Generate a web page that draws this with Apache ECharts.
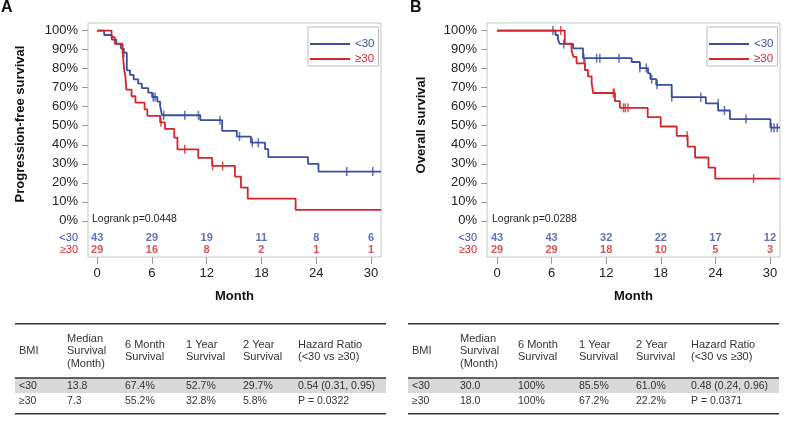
<!DOCTYPE html>
<html>
<head>
<meta charset="utf-8">
<script src="https://cdn.jsdelivr.net/npm/echarts@6/dist/echarts.min.js"></script>
<style>
  html, body { margin: 0; padding: 0; background: #fff; }
  #chart { width: 787px; height: 423px; }
</style>
</head>
<body>
<div id="chart"></div>
<script>
// ---- data ----
const months = [0, 6, 12, 18, 24, 30];
const pctTicks = [0, 0.1, 0.2, 0.3, 0.4, 0.5, 0.6, 0.7, 0.8, 0.9, 1];
const groups = ['<30', '≥30'];

// progression-free survival, panel A
const pfsLow = [[0, 1], [0.77, 0.977], [1.6, 0.953], [2.1, 0.93], [2.6, 0.907], [2.9, 0.884], [3.25, 0.791],
  [3.6, 0.767], [4.0, 0.744], [4.5, 0.721], [4.9, 0.698], [5.6, 0.674], [6.02, 0.651], [6.6, 0.627],
  [6.9, 0.604], [7.1, 0.555], [11.3, 0.529], [13.7, 0.473], [15.3, 0.443], [16.85, 0.411], [18.4, 0.377],
  [18.75, 0.335], [23.1, 0.3], [24.25, 0.259], [31.1, 0.259]];
const pfsHigh = [[0, 1], [1.58, 0.966], [1.94, 0.931], [2.78, 0.897], [2.96, 0.793], [3.1, 0.759], [3.2, 0.69],
  [3.77, 0.655], [4.2, 0.621], [5.2, 0.586], [5.5, 0.552], [6.9, 0.518], [7.43, 0.483], [8.45, 0.438],
  [8.8, 0.376], [11.08, 0.331], [12.6, 0.289], [15.1, 0.233], [15.76, 0.175], [16.5, 0.117], [21.75, 0.058],
  [31.1, 0.058]];
const pfsLowCens = [[2.93, 0.884], [6.15, 0.651], [6.35, 0.651], [7.3, 0.555], [9.6, 0.555], [11.1, 0.555],
  [13.45, 0.529], [15.6, 0.443], [17.0, 0.411], [17.65, 0.411], [27.35, 0.259], [30.2, 0.259]];
const pfsHighCens = [[7.0, 0.518], [9.6, 0.376], [12.65, 0.289], [13.75, 0.289]];
const pfsRiskLow = [43, 29, 19, 11, 8, 6];
const pfsRiskHigh = [29, 16, 8, 2, 1, 1];

// overall survival, panel B
const osLow = [[0, 1], [6.43, 0.977], [6.7, 0.953], [6.9, 0.93], [8.37, 0.907], [9.45, 0.855], [14.8, 0.835],
  [15.7, 0.803], [16.6, 0.775], [16.85, 0.745], [17.5, 0.715], [19.2, 0.65], [22.95, 0.617], [24.3, 0.58],
  [25.6, 0.535], [30.05, 0.49], [31.1, 0.49]];
const osHigh = [[0, 1], [7.45, 0.931], [8.19, 0.897], [8.4, 0.862], [8.74, 0.828], [9.66, 0.793], [10.0, 0.759],
  [10.4, 0.724], [10.57, 0.672], [12.96, 0.629], [13.5, 0.594], [16.56, 0.545], [17.99, 0.496], [19.75, 0.447],
  [20.95, 0.39], [21.77, 0.333], [23.24, 0.28], [23.98, 0.222], [31.1, 0.222]];
const osLowCens = [[6.15, 1], [7.34, 0.93], [9.55, 0.855], [10.95, 0.855], [11.3, 0.855], [13.4, 0.855],
  [15.7, 0.803], [16.4, 0.803], [17.0, 0.745], [17.6, 0.715], [19.2, 0.65], [22.4, 0.65], [24.3, 0.617],
  [25.0, 0.58], [27.36, 0.535], [30.15, 0.49], [30.45, 0.49], [30.8, 0.49]];
const osHighCens = [[7.0, 1], [9.66, 0.828], [12.78, 0.672], [12.9, 0.672], [13.9, 0.594], [14.1, 0.594],
  [14.4, 0.594], [20.9, 0.447], [28.2, 0.222]];
const osRiskLow = [43, 43, 32, 22, 17, 12];
const osRiskHigh = [29, 29, 18, 10, 5, 3];

const logrank = ['Logrank p=0.0448', 'Logrank p=0.0288'];

// summary tables
const tableHead = ['BMI', 'Median\nSurvival\n(Month)', '6 Month\nSurvival', '1 Year\nSurvival', '2 Year\nSurvival', 'Hazard Ratio\n(<30 vs ≥30)'];
const tableA = [
  ['<30', '13.8', '67.4%', '52.7%', '29.7%', '0.54 (0.31, 0.95)'],
  ['≥30', '7.3', '55.2%', '32.8%', '5.8%', 'P = 0.0322']
];
const tableB = [
  ['<30', '30.0', '100%', '85.5%', '61.0%', '0.48 (0.24, 0.96)'],
  ['≥30', '18.0', '100%', '67.2%', '22.2%', 'P = 0.0371']
];

// ---- styling / layout ----
const BLUE = '#3a4ea2';
const RED = '#d3262c';
const FONT = 'Arial, "Liberation Sans", Helvetica, sans-serif';
const riskRows = [-0.088, -0.152]; // y positions of the at-risk rows inside the frame
const colX = [4, 52, 110, 171, 228, 283];

const chart = echarts.init(document.getElementById('chart'));

function yLabel(v) {
  if (v < -0.12) return '{r|≥30}';
  if (v < -0.05) return '{b|<30}';
  return Math.round(v * 100) + '%';
}

function makeGrid(left) {
  return { left: left, top: 23, width: 293, height: 234, show: true, borderColor: '#c6c6c6', borderWidth: 1, backgroundColor: 'transparent' };
}

function makeX(gi, min) {
  return {
    gridIndex: gi, type: 'value', min: min, max: 31.1,
    axisLine: { show: false, onZero: false },
    splitLine: { show: false },
    axisTick: { show: true, customValues: months, length: 7, lineStyle: { color: '#999' } },
    axisLabel: { customValues: months, margin: 10, fontSize: 13, color: '#222', fontFamily: FONT },
    name: 'Month', nameLocation: 'middle', nameGap: 33,
    nameTextStyle: { fontWeight: 'bold', fontSize: 13, color: '#111', fontFamily: FONT }
  };
}

function makeY(gi) {
  return {
    gridIndex: gi, type: 'value', min: -0.19, max: 1.04,
    axisLine: { show: false, onZero: false },
    splitLine: { show: false },
    axisTick: { show: true, customValues: pctTicks, length: 6, lineStyle: { color: '#999' } },
    axisLabel: {
      customValues: pctTicks.concat(riskRows), formatter: yLabel, margin: 10,
      fontSize: 13, color: '#222', fontFamily: FONT,
      rich: { b: { color: BLUE, fontSize: 11, fontFamily: FONT }, r: { color: RED, fontSize: 11, fontFamily: FONT } }
    }
  };
}

function kmLine(name, data, color, gi) {
  return {
    type: 'line', name: name, data: data, step: 'end', xAxisIndex: gi, yAxisIndex: gi,
    symbol: 'none', showSymbol: false, silent: true,
    lineStyle: { color: color, width: 1.8 }, itemStyle: { color: color }
  };
}

function censor(data, color, gi) {
  return {
    type: 'scatter', data: data, xAxisIndex: gi, yAxisIndex: gi, silent: true,
    symbol: 'rect', symbolSize: [1.5, 9], itemStyle: { color: color }
  };
}

function atRisk(counts, row, color, gi) {
  return {
    type: 'scatter', xAxisIndex: gi, yAxisIndex: gi, silent: true,
    data: months.map((m, i) => [m, riskRows[row], counts[i]]),
    symbolSize: 1, itemStyle: { color: 'transparent' },
    label: {
      show: true, position: 'inside', formatter: p => p.value[2],
      color: color, fontWeight: 'bold', fontSize: 11, fontFamily: FONT
    }
  };
}

function makeLegend(left) {
  return {
    left: left, top: 27, orient: 'vertical', selectedMode: false,
    data: [{ name: groups[0], textStyle: { color: BLUE } }, { name: groups[1], textStyle: { color: RED } }],
    icon: 'rect', itemWidth: 40, itemHeight: 2, itemGap: 3,
    padding: [11, 4, 1, 2], borderColor: '#bdbdbd', borderWidth: 1, backgroundColor: '#fff',
    textStyle: { fontSize: 11.5, fontFamily: FONT }
  };
}

function txt(x, y, text, extra) {
  return {
    type: 'text', x: x, y: y, silent: true,
    style: Object.assign({ text: text, fill: '#222', fontSize: 11, fontFamily: FONT, align: 'left', verticalAlign: 'middle' }, extra || {})
  };
}

function rect(x, y, w, h, fill) {
  return { type: 'rect', silent: true, shape: { x: x, y: y, width: w, height: h }, style: { fill: fill } };
}

function makeTable(left, rows) {
  const w = 371;
  const els = [
    rect(left, 378, w, 15, '#d9d9d9'),
    rect(left, 323, w, 1.6, '#333'),
    rect(left, 377.3, w, 1.4, '#333'),
    rect(left, 413, w, 1.6, '#333')
  ];
  tableHead.forEach((h, i) => els.push(txt(left + colX[i], 351, h, { fontSize: 11, lineHeight: 12.5, fill: '#333' })));
  const rowY = [386, 401];
  rows.forEach((r, ri) => r.forEach((c, i) => els.push(txt(left + colX[i], rowY[ri], c, { fontSize: 10.5, fill: '#333' }))));
  return els;
}

const graphics = [
  txt(1, 8, 'A', { fontSize: 16, fontWeight: 'bold', fill: '#111' }),
  txt(410, 8, 'B', { fontSize: 16, fontWeight: 'bold', fill: '#111' }),
  txt(20, 124, 'Progression-free survival', { fontSize: 13, fontWeight: 'bold', fill: '#111', align: 'center' }),
  txt(421, 125, 'Overall survival', { fontSize: 13, fontWeight: 'bold', fill: '#111', align: 'center' }),
  txt(92, 219, logrank[0], { fontSize: 10.5 }),
  txt(492, 219, logrank[1], { fontSize: 10.5 }),
  txt(343, 33, 'BMI', { fontSize: 11, align: 'center' }),
  txt(742, 33, 'BMI', { fontSize: 11, align: 'center' })
].concat(makeTable(15, tableA), makeTable(408, tableB));
graphics[2].rotation = Math.PI / 2;
graphics[3].rotation = Math.PI / 2;

chart.setOption({
  animation: false,
  backgroundColor: '#fff',
  grid: [makeGrid(88), makeGrid(487)],
  xAxis: [makeX(0, -1.0), makeX(1, -1.1)],
  yAxis: [makeY(0), makeY(1)],
  legend: [makeLegend(308), makeLegend(707)],
  series: [
    kmLine(groups[0], pfsLow, BLUE, 0),
    kmLine(groups[1], pfsHigh, RED, 0),
    censor(pfsLowCens, BLUE, 0),
    censor(pfsHighCens, RED, 0),
    atRisk(pfsRiskLow, 0, BLUE, 0),
    atRisk(pfsRiskHigh, 1, RED, 0),
    kmLine(groups[0], osLow, BLUE, 1),
    kmLine(groups[1], osHigh, RED, 1),
    censor(osLowCens, BLUE, 1),
    censor(osHighCens, RED, 1),
    atRisk(osRiskLow, 0, BLUE, 1),
    atRisk(osRiskHigh, 1, RED, 1)
  ],
  graphic: graphics
});
</script>
</body>
</html>
